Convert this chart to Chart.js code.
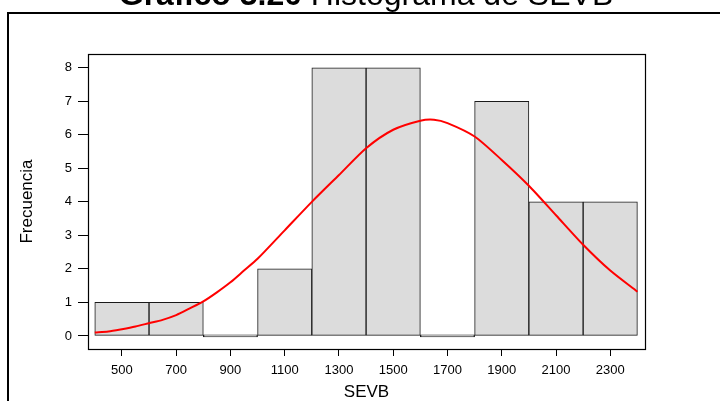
<!DOCTYPE html>
<html>
<head>
<meta charset="utf-8">
<script src="https://cdn.jsdelivr.net/npm/chart.js@4.4.1/dist/chart.umd.min.js"></script>
<style>
  html, body { margin: 0; padding: 0; background: #fff; }
  #wrap { width: 720px; height: 401px; position: relative; }
</style>
</head>
<body>
<div id="wrap"><canvas id="hist"></canvas></div>
<script>
// histogram bins (centres) and counts
var binCenters = [500, 700, 900, 1100, 1300, 1500, 1700, 1900, 2100, 2300];
var counts = [1, 1, 0, 2, 8, 8, 0, 7, 4, 4];

// fitted normal curve
var curveX = [400, 450, 500, 550, 600, 650, 700, 750, 800, 850, 900, 950, 1000, 1100, 1200,
              1300, 1400, 1500, 1600, 1650, 1700, 1800, 1900, 2000, 2100, 2200, 2300, 2400];
var curveY = [0.10, 0.13, 0.20, 0.28, 0.38, 0.48, 0.62, 0.82, 1.03, 1.30, 1.60, 1.95, 2.30, 3.15, 4.00,
              4.80, 5.60, 6.15, 6.42, 6.45, 6.35, 5.95, 5.25, 4.48, 3.60, 2.72, 1.95, 1.32];

var xTicks = [500, 700, 900, 1100, 1300, 1500, 1700, 1900, 2100, 2300];
var yTicks = [0, 1, 2, 3, 4, 5, 6, 7, 8];

var titleBold = 'Gráfico 3.20';
var titleRest = 'Histograma de SEVB';
var xTitle = 'SEVB';
var yTitle = 'Frecuencia';

var FONT = '"Liberation Sans", Arial, sans-serif';

// page frame, title and the box round the plot area
var framePlugin = {
    id: 'frame',
    beforeDraw: function (chart) {
        var ctx = chart.ctx;
        ctx.save();
        ctx.fillStyle = '#fff';
        ctx.fillRect(0, 0, chart.width, chart.height);

        ctx.strokeStyle = '#000';
        ctx.lineWidth = 2;
        ctx.beginPath();
        ctx.moveTo(8, chart.height + 5);
        ctx.lineTo(8, 13);
        ctx.lineTo(chart.width + 5, 13);
        ctx.stroke();

        // title, partly cut off at the top
        ctx.fillStyle = '#000';
        ctx.textBaseline = 'alphabetic';
        ctx.font = 'bold 32px ' + FONT;
        var wb = ctx.measureText(titleBold + ' ').width;
        ctx.font = '32px ' + FONT;
        var wr = ctx.measureText(titleRest).width;
        var x0 = 366 - (wb + wr) / 2;
        ctx.font = 'bold 32px ' + FONT;
        ctx.fillText(titleBold, x0, 5);
        ctx.font = '32px ' + FONT;
        ctx.fillText(titleRest, x0 + wb, 5);
        ctx.restore();
    },
    afterDraw: function (chart) {
        var a = chart.chartArea;
        var ctx = chart.ctx;
        ctx.save();
        ctx.strokeStyle = '#000';
        ctx.lineWidth = 1.2;
        ctx.strokeRect(Math.round(a.left) + 0.5, Math.round(a.top) + 0.5,
                       Math.round(a.right - a.left), Math.round(a.bottom - a.top));
        ctx.restore();
    }
};

document.addEventListener('DOMContentLoaded', function () {
    var barData = binCenters.map(function (c, i) { return { x: c, y: counts[i] }; });
    var lineData = curveX.map(function (x, i) { return { x: x, y: curveY[i] }; });

    new Chart(document.getElementById('hist').getContext('2d'), {
        type: 'bar',
        data: {
            datasets: [{
                type: 'line',
                data: lineData,
                borderColor: '#ff0000',
                borderWidth: 2,
                pointRadius: 0,
                tension: 0.25,
                fill: false,
                order: 0
            }, {
                type: 'bar',
                data: barData,
                backgroundColor: '#dcdcdc',
                borderColor: '#1a1a1a',
                borderWidth: 1,
                borderSkipped: false,
                minBarLength: 2,
                barPercentage: 1,
                categoryPercentage: 1,
                order: 1
            }]
        },
        options: {
            responsive: true,
            maintainAspectRatio: false,
            animation: false,
            layout: { padding: { left: 10, right: 75, top: 54, bottom: 0 } },
            scales: {
                x: {
                    type: 'linear',
                    min: 375,
                    max: 2428,
                    offset: false,
                    afterBuildTicks: function (s) { s.ticks = xTicks.map(function (v) { return { value: v }; }); },
                    afterFit: function (s) { s.height = 52; },
                    grid: { drawOnChartArea: false, offset: false, tickLength: 7, color: '#000' },
                    border: { display: false },
                    ticks: { color: '#000', padding: 7, maxRotation: 0, autoSkip: false,
                             font: { family: FONT, size: 13 },
                             callback: function (v) { return String(v); } },
                    title: { display: true, text: xTitle, color: '#000',
                             font: { family: FONT, size: 17, lineHeight: 1 },
                             padding: { top: 0, bottom: 0 } }
                },
                y: {
                    min: -0.39,
                    max: 8.41,
                    afterBuildTicks: function (s) { s.ticks = yTicks.map(function (v) { return { value: v }; }); },
                    afterFit: function (s) { s.width = 78; },
                    grid: { drawOnChartArea: false, tickLength: 10, color: '#000' },
                    border: { display: false },
                    ticks: { color: '#000', padding: 6, font: { family: FONT, size: 13 },
                             callback: function (v) { return String(v); } },
                    title: { display: true, text: yTitle, color: '#000',
                             font: { family: FONT, size: 17 },
                             padding: { top: 7, bottom: 0 } }
                }
            },
            plugins: {
                legend: { display: false },
                tooltip: { enabled: false },
                title: { display: false }
            }
        },
        plugins: [framePlugin]
    });
});
</script>
</body>
</html>
